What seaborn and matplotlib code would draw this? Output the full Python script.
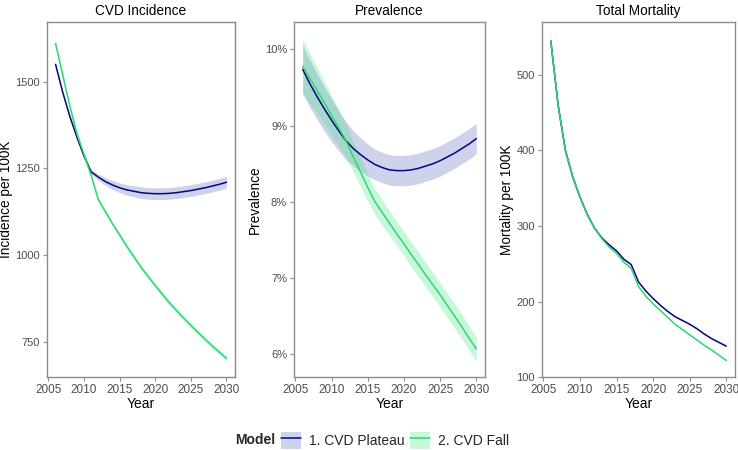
import numpy as np
import pandas as pd
import matplotlib
matplotlib.use("Agg")
import matplotlib.pyplot as plt
import seaborn as sns
from matplotlib.lines import Line2D
from matplotlib.patches import Patch
from matplotlib.ticker import FuncFormatter
from matplotlib.legend_handler import HandlerTuple

years = list(range(2006, 2031))
models = ["1. CVD Plateau", "2. CVD Fall"]

inc_plateau = [1550, 1470, 1400, 1340, 1285, 1240, 1225, 1212, 1202, 1194, 1188, 1184, 1180,
               1178, 1177, 1177, 1178, 1180, 1183, 1186, 1190, 1194, 1199, 1204, 1210]
inc_plateau_hw = [4, 4, 5, 5, 6, 7, 9, 11, 13, 14, 15, 16, 17, 17, 17, 17, 17, 17, 17, 17, 17, 17, 17, 17, 17]
inc_fall = [1610, 1520, 1430, 1350, 1290, 1230, 1160, 1125, 1090, 1058, 1025, 995, 965,
            938, 912, 887, 862, 840, 818, 797, 777, 757, 738, 720, 702]
inc_fall_hw = [8, 8, 8, 7, 7, 7, 7, 7, 7, 7, 7, 7, 7, 7, 7, 7, 7, 7, 7, 7, 7, 7, 7, 7, 7]

prev_plateau = [9.74, 9.55, 9.38, 9.22, 9.07, 8.93, 8.80, 8.70, 8.62, 8.55, 8.49, 8.45, 8.42,
                8.41, 8.41, 8.42, 8.44, 8.47, 8.50, 8.54, 8.59, 8.64, 8.70, 8.76, 8.83]
prev_plateau_hw = [0.32, 0.31, 0.30, 0.29, 0.28, 0.26, 0.25, 0.23, 0.22, 0.21, 0.20, 0.20, 0.20,
                   0.20, 0.20, 0.20, 0.20, 0.20, 0.20, 0.20, 0.20, 0.20, 0.20, 0.20, 0.20]
prev_fall = [9.78, 9.62, 9.46, 9.30, 9.13, 8.97, 8.80, 8.59, 8.39, 8.19, 8.00, 7.86, 7.72,
             7.58, 7.45, 7.31, 7.18, 7.04, 6.91, 6.78, 6.64, 6.50, 6.36, 6.21, 6.07]
prev_fall_hw = [0.36, 0.33, 0.30, 0.28, 0.26, 0.24, 0.22, 0.20, 0.19, 0.18, 0.17, 0.17, 0.16,
                0.16, 0.16, 0.16, 0.16, 0.16, 0.16, 0.16, 0.16, 0.16, 0.16, 0.16, 0.16]

mort_plateau = [545, 460, 400, 365, 338, 315, 297, 284, 275, 267, 256, 249, 226,
                214, 204, 195, 187, 180, 175, 170, 164, 157, 151, 146, 141]
mort_fall = [545, 460, 400, 365, 338, 315, 297, 283, 272, 264, 252, 244, 220,
             207, 197, 188, 179, 170, 163, 156, 149, 142, 136, 129, 122]
mort_hw = [6, 4, 3, 2, 2, 2, 1, 1, 1, 1, 1, 1, 1, 1, 1, 1, 1, 1, 1, 1, 1, 1, 1, 1, 1]

titles = ["CVD Incidence", "Prevalence", "Total Mortality"]
ylabels = ["Incidence per 100K", "Prevalence", "Mortality per 100K"]
yticks = [[750, 1000, 1250, 1500], [6, 7, 8, 9, 10], [100, 200, 300, 400, 500]]
xticks = [2005, 2010, 2015, 2020, 2025, 2030]

line_colors = {"1. CVD Plateau": "#06067f", "2. CVD Fall": "#2ed872"}
fill_colors = {"1. CVD Plateau": "#5560b8", "2. CVD Fall": "#3fe57f"}

sns.set_theme(style="white")
plt.rcParams["font.family"] = ["Liberation Sans", "DejaVu Sans"]

fig = plt.figure(figsize=(7.38, 4.5), dpi=100)
positions = [
    [47 / 738, 0.162, (235 - 47) / 738, 0.789],
    [294 / 738, 0.162, (485 - 294) / 738, 0.789],
    [542 / 738, 0.162, (735 - 542) / 738, 0.789],
]
ylims = [(648, 1672), (5.70, 10.36), (100, 570)]

panels = [
    (inc_plateau, inc_plateau_hw, inc_fall, inc_fall_hw),
    (prev_plateau, prev_plateau_hw, prev_fall, prev_fall_hw),
    (mort_plateau, mort_hw, mort_fall, mort_hw),
]

for i, (pv, phw, fv, fhw) in enumerate(panels):
    ax = fig.add_axes(positions[i])
    df = pd.DataFrame({
        "Year": years * 2,
        "value": list(pv) + list(fv),
        "lo": [v - h for v, h in zip(pv, phw)] + [v - h for v, h in zip(fv, fhw)],
        "hi": [v + h for v, h in zip(pv, phw)] + [v + h for v, h in zip(fv, fhw)],
        "Model": [models[0]] * len(years) + [models[1]] * len(years),
    })
    for m in models:
        sub = df[df["Model"] == m]
        ax.fill_between(sub["Year"], sub["lo"], sub["hi"], color=fill_colors[m],
                        alpha=0.28, linewidth=0)
    sns.lineplot(data=df, x="Year", y="value", hue="Model", palette=line_colors,
                 ax=ax, linewidth=1.1, legend=False)
    ax.set_xlim(2004.8, 2031.2)
    ax.set_ylim(*ylims[i])
    ax.set_xticks(xticks)
    ax.set_yticks(yticks[i])
    if i == 1:
        ax.yaxis.set_major_formatter(FuncFormatter(lambda v, p: f"{v:.0f}%"))
    ax.set_title(titles[i], fontsize=9.8, color="black", pad=5)
    ax.set_xlabel("Year", fontsize=10, color="black", labelpad=1)
    ax.set_ylabel(ylabels[i], fontsize=9.8, color="black", labelpad=2)
    for s in ax.spines.values():
        s.set_color("#8c8c8c")
        s.set_linewidth(1.0)
    ax.tick_params(axis="both", which="major", length=3, width=0.8, color="#8c8c8c",
                   labelcolor="#4d4d4d", pad=2)
    ax.tick_params(axis="x", labelsize=8.5, bottom=True)
    ax.tick_params(axis="y", labelsize=8, left=True)
    ax.grid(False)

handles = []
for m in models:
    handles.append((Patch(facecolor=fill_colors[m], alpha=0.28, edgecolor="none"),
                    Line2D([], [], color=line_colors[m], linewidth=1.1)))
leg = fig.legend(handles, models, loc="center left", bbox_to_anchor=(281 / 738, 0.022), ncol=2,
                 frameon=False, fontsize=10, handlelength=1.45, handleheight=1.5,
                 columnspacing=0.35, handletextpad=0.6, borderpad=0, borderaxespad=0,
                 handler_map={tuple: HandlerTuple(ndivide=1, pad=0)})
fig.text(275 / 738, 0.022, "Model", fontsize=10, fontweight="bold", ha="right", va="center")

fig.savefig("out.png", dpi=100)
